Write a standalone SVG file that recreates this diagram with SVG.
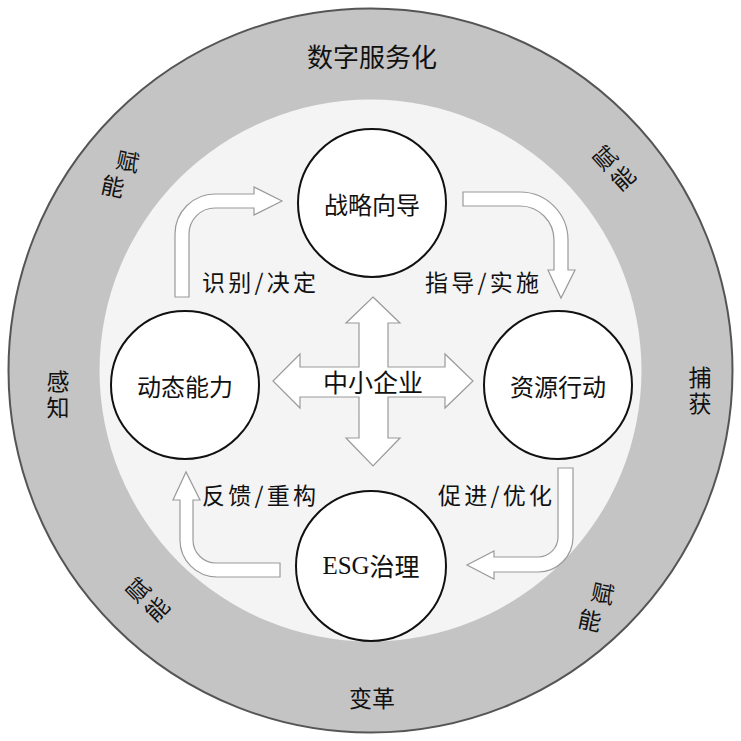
<svg xmlns="http://www.w3.org/2000/svg" width="741" height="741" viewBox="0 0 741 741">
<defs>
<style>
.t{font-family:"Noto Sans CJK SC","Noto Sans",sans-serif;fill:#111;text-anchor:middle;dominant-baseline:central}
.ring{font-size:23px}
.vert{writing-mode:vertical-rl;letter-spacing:3px}
.lbl{font-size:23px}
.node{fill:#ffffff;stroke:#111;stroke-width:2}
.arr{fill:#ffffff;stroke:#9a9a9a;stroke-width:1.2;stroke-linejoin:miter}
</style>
</defs>
<rect width="741" height="741" fill="#ffffff"/>
<g id="outer-ring">
<circle cx="370.5" cy="370.5" r="362" fill="#c4c4c4" stroke="#555" stroke-width="2"/>
<circle cx="370.5" cy="370.5" r="271" fill="#f4f4f4"/>
<text class="t ring" x="372" y="55" style="font-size:26px">数字服务化</text>
<text class="t ring" x="372" y="697">变革</text>
<text class="t ring vert" x="58" y="396">感知</text>
<text class="t ring vert" x="700" y="392">捕获</text>
<text class="t ring" transform="translate(128,160) rotate(12)" x="0" y="0">赋</text>
<text class="t ring" transform="translate(113,185) rotate(12)" x="0" y="0">能</text>
<text class="t ring" transform="translate(604,157) rotate(-42)" x="0" y="0">赋</text>
<text class="t ring" transform="translate(622,177) rotate(-42)" x="0" y="0">能</text>
<text class="t ring" transform="translate(137,589) rotate(-45)" x="0" y="0">赋</text>
<text class="t ring" transform="translate(156,608) rotate(-45)" x="0" y="0">能</text>
<text class="t ring" transform="translate(603,592) rotate(12)" x="0" y="0">赋</text>
<text class="t ring" transform="translate(590,619) rotate(12)" x="0" y="0">能</text>
</g>
<g id="connectors">
<path class="arr" d="M175 297 L175 234 A40 40 0 0 1 215 194 L254 194 L254 187 L282 201 L254 215 L254 208 L215 208 A26 26 0 0 0 189 234 L189 297 Z"/>
<path class="arr" d="M463 192 L520 192 A48 48 0 0 1 568 240 L568 270 L575 270 L561 298 L548 270 L554 270 L554 240 A34 34 0 0 0 520 206 L463 206 Z"/>
<path class="arr" d="M558 468 L573 468 L573 537 A35 35 0 0 1 538 572 L494 572 L494 579 L467 565 L494 551 L494 557 L538 557 A20 20 0 0 0 558 537 Z"/>
<path class="arr" d="M280 577 L217 577 A37 37 0 0 1 180 540 L180 500 L173 500 L186 472 L200 500 L193 500 L193 540 A23 23 0 0 0 216 563 L280 563 Z"/>
<path class="arr" d="M373 297 L400 323 L388 323 L388 367 L445 367 L445 354 L473 381 L445 408 L445 397 L388 397 L388 438 L400 438 L373 466 L346 438 L359 438 L359 397 L300 397 L300 408 L273 381 L300 354 L300 367 L359 367 L359 323 L346 323 Z"/>
<text class="t lbl" x="259" y="281" textLength="114" lengthAdjust="spacing">识别/决定</text>
<text class="t lbl" x="482" y="281" textLength="114" lengthAdjust="spacing">指导/实施</text>
<text class="t lbl" x="259" y="494" textLength="114" lengthAdjust="spacing">反馈/重构</text>
<text class="t lbl" x="495" y="494" textLength="114" lengthAdjust="spacing">促进/优化</text>
</g>
<g id="center">
<text class="t" x="373" y="381" style="font-size:25px">中小企业</text>
</g>
<g id="node-strategy">
<circle class="node" cx="372" cy="203" r="74"/>
<text class="t" x="372" y="203" style="font-size:24px">战略向导</text>
</g>
<g id="node-dynamic">
<circle class="node" cx="185" cy="385" r="74"/>
<text class="t" x="185" y="385" style="font-size:24px">动态能力</text>
</g>
<g id="node-resource">
<circle class="node" cx="558" cy="385" r="74"/>
<text class="t" x="558" y="385" style="font-size:24px">资源行动</text>
</g>
<g id="node-esg">
<circle class="node" cx="371" cy="566" r="75"/>
<text class="t" x="371" y="565" style="font-size:25px"><tspan font-family="'Liberation Serif',serif">ESG</tspan>治理</text>
</g>
</svg>
